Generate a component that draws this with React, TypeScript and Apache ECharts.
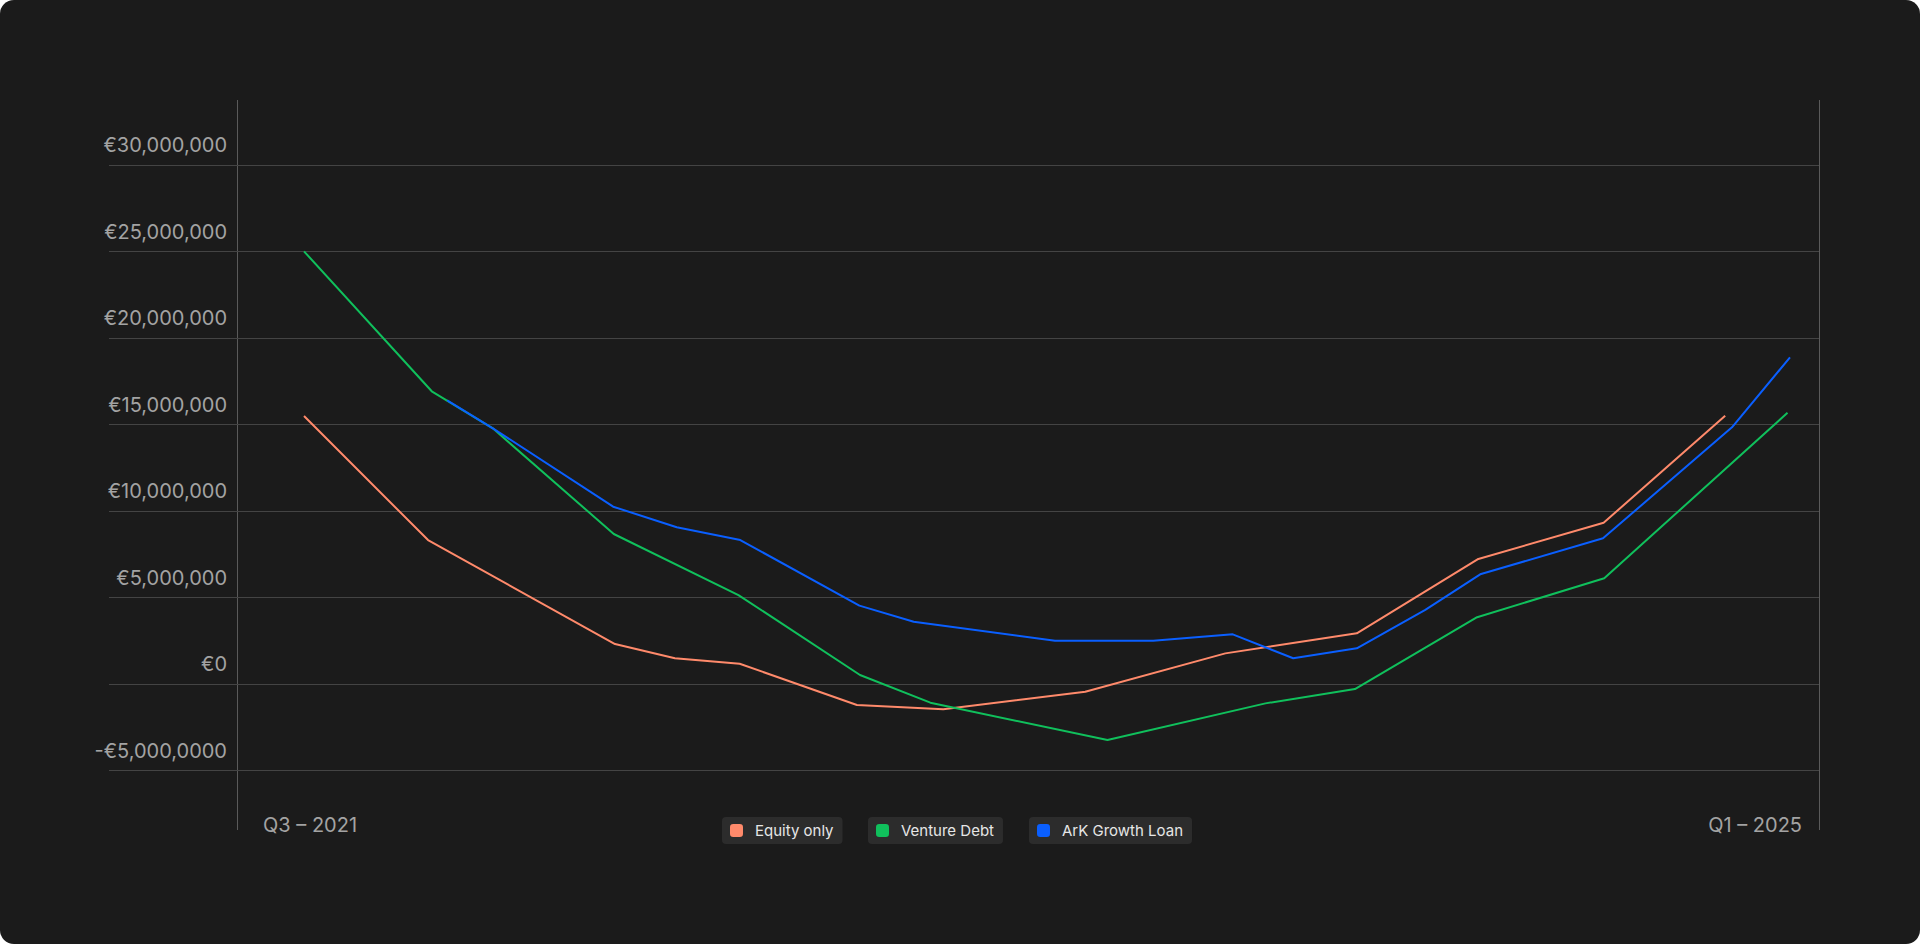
import React, { useEffect, useRef } from 'react';
import * as echarts from 'echarts';

const seriesNames = ['Equity only', 'Venture Debt', 'ArK Growth Loan'];
const seriesColors = ['#FF8A6B', '#10C05C', '#0A5FFF'];

// x positions (period steps) and values (EUR millions)
const equityX = [0, 2.01, 5.04, 6.01, 7.06, 8.96, 10.36, 12.66, 14.93, 17.06, 19.03, 21.06, 23.03];
const equityY = [15.49, 8.32, 2.31, 1.49, 1.17, -1.21, -1.46, -0.45, 1.77, 2.93, 7.23, 9.32, 15.51];

const ventureX = [0, 2.07, 3.06, 5.02, 7.04, 9.01, 10.15, 13.02, 15.58, 17.03, 19.01, 21.07, 24.04];
const ventureY = [25.01, 16.92, 14.78, 8.67, 5.14, 0.52, -1.08, -3.24, -1.12, -0.29, 3.86, 6.11, 15.68];

const arkX = [2.32, 3.06, 5.01, 6.04, 7.07, 9.0, 9.88, 12.17, 13.76, 15.05, 16.03, 17.06, 18.17, 19.06, 21.05, 23.14, 24.08];
const arkY = [16.4, 14.78, 10.25, 9.06, 8.32, 4.53, 3.6, 2.5, 2.5, 2.87, 1.49, 2.06, 4.28, 6.34, 8.42, 14.84, 18.88];

const yTickLabels = [
  '-€5,000,0000',
  '€0',
  '€5,000,000',
  '€10,000,000',
  '€15,000,000',
  '€20,000,000',
  '€25,000,000',
  '€30,000,000',
];
const xEdgeLabels = ['Q3 – 2021', 'Q1 – 2025'];

const FONT = 'Inter, "Noto Sans", sans-serif';

function toPairs(xs: number[], ys: number[]) {
  return xs.map((x, i) => [x, ys[i] * 1e6]);
}

export default function App() {
  const ref = useRef<HTMLDivElement>(null);

  useEffect(() => {
    document.body.style.margin = '0';
    document.body.style.background = '#ffffff';
    if (!ref.current) return;
    const chart = echarts.init(ref.current, undefined, { renderer: 'svg' });
    const seriesData = [toPairs(equityX, equityY), toPairs(ventureX, ventureY), toPairs(arkX, arkY)];
    const legendLefts = [722, 868, 1029];

    chart.setOption({
      animation: false,
      backgroundColor: 'transparent',
      grid: { left: 109, right: 101, top: 165, bottom: 173.5, containLabel: false },
      xAxis: {
        type: 'value',
        min: -3.16,
        max: 24.55,
        show: false,
      },
      yAxis: {
        type: 'value',
        min: -5000000,
        max: 30000000,
        interval: 5000000,
        axisLine: { show: false },
        axisTick: { show: false },
        splitLine: { show: true, lineStyle: { color: '#444444', width: 1 } },
        axisLabel: {
          inside: true,
          margin: 118,
          align: 'right',
          color: '#a3a3a3',
          fontFamily: FONT,
          fontSize: 20,
          verticalAlign: 'bottom',
          padding: [0, 0, 10, 0],
          formatter: (v: number) => yTickLabels[Math.round((v + 5000000) / 5000000)] ?? '',
        },
      },
      legend: seriesNames.map((name, i) => ({
        data: [name],
        left: legendLefts[i],
        top: 817,
        icon: 'roundRect',
        itemWidth: 13,
        itemHeight: 13,
        backgroundColor: '#2c2c2c',
        borderRadius: 4,
        padding: [6, 9, 6, 8],
        selectedMode: false,
        textStyle: { color: '#e6e6e6', fontSize: 15, fontFamily: FONT, padding: [0, 0, 0, 7] },
      })),
      graphic: [
        { type: 'line', shape: { x1: 237.5, y1: 100, x2: 237.5, y2: 830 }, style: { stroke: '#5a5a5a', lineWidth: 1 }, silent: true },
        { type: 'line', shape: { x1: 1819.5, y1: 100, x2: 1819.5, y2: 830 }, style: { stroke: '#5a5a5a', lineWidth: 1 }, silent: true },
        {
          type: 'text',
          x: 263,
          y: 825,
          style: { text: xEdgeLabels[0], fill: '#a3a3a3', font: `20px ${FONT}`, textAlign: 'left', textVerticalAlign: 'middle' },
          silent: true,
        },
        {
          type: 'text',
          x: 1802,
          y: 825,
          style: { text: xEdgeLabels[1], fill: '#a3a3a3', font: `20px ${FONT}`, textAlign: 'right', textVerticalAlign: 'middle' },
          silent: true,
        },
      ],
      series: seriesNames.map((name, i) => ({
        name,
        type: 'line',
        data: seriesData[i],
        symbol: 'none',
        smooth: false,
        color: seriesColors[i],
        lineStyle: { color: seriesColors[i], width: 2 },
        emphasis: { disabled: true },
      })),
    });

    return () => chart.dispose();
  }, []);

  return (
    <div
      style={{
        width: 1920,
        height: 944,
        background: '#1b1b1b',
        borderRadius: 14,
        overflow: 'hidden',
      }}
    >
      <div ref={ref} style={{ width: 1920, height: 944 }} />
    </div>
  );
}
